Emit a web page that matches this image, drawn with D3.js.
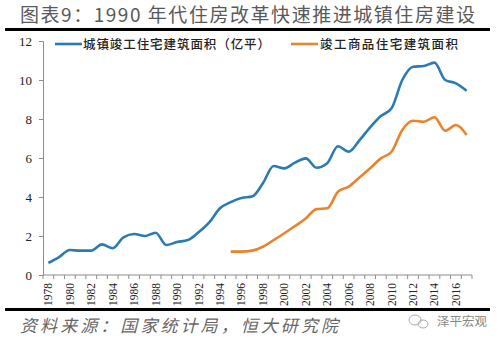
<!DOCTYPE html>
<html><head><meta charset="utf-8">
<script src="https://cdn.jsdelivr.net/npm/d3@7"></script>
<style>html,body{margin:0;padding:0;background:#fff;}svg{display:block;}</style>
</head><body>
<svg id="c" width="500" height="342"></svg>
<script>
const years = d3.range(1978, 2018);
const urbanCompleted = [0.62,0.92,1.28,1.25,1.25,1.57,1.37,1.93,2.10,2.00,2.17,1.54,1.69,1.79,2.19,2.70,3.42,3.74,3.95,4.02,4.70,5.59,5.47,5.76,5.98,5.50,5.73,6.60,6.32,6.90,7.57,8.15,8.55,10.00,10.68,10.72,10.89,10.00,9.83,9.45];
const commercialYears = d3.range(1995, 2018);
const commercialCompleted = [1.20,1.20,1.25,1.45,1.79,2.14,2.51,2.90,3.38,3.42,4.27,4.53,5.00,5.47,5.98,6.32,7.44,7.91,7.86,8.09,7.40,7.69,7.18];
const yTicks = [0,2,4,6,8,10,12];
const seriesNames = ["城镇竣工住宅建筑面积（亿平）","竣工商品住宅建筑面积"];
const seriesColors = ["#2b7bb2","#e8832e"];
const titleText = "图表9：1990 年代住房改革快速推进城镇住房建设";
const sourceText = "资料来源：国家统计局，恒大研究院";
const watermark = "泽平宏观";

const svg = d3.select("#c");
const x = d3.scaleBand().domain(years).range([43, 472]).padding(0);
const y = d3.scaleLinear().domain([0, 12]).range([275, 41]);
const cx = d => x(d) + x.bandwidth()/2;
const cjk = "'Noto Sans CJK SC', sans-serif";
const serif = "'Liberation Serif', 'DejaVu Serif', serif";

// title
svg.append("text").attr("x", 20).attr("y", 22)
  .attr("font-family", cjk).attr("font-size", 19).attr("fill", "#595959")
  .attr("textLength", 455).attr("lengthAdjust", "spacing").text(titleText);
svg.append("line").attr("x1", 5).attr("x2", 490).attr("y1", 29.5).attr("y2", 29.5)
  .attr("stroke", "#000").attr("stroke-width", 3);

// y axis
const yAxis = d3.axisLeft(y).tickValues(yTicks).tickSize(4).tickPadding(7);
const gy = svg.append("g").attr("transform", "translate(43,0)").call(yAxis);
gy.selectAll("path,line").attr("stroke", "#8c8c8c");
gy.selectAll("text").attr("font-family", serif).attr("font-size", 13).attr("fill", "#222");

// x axis
const gx = svg.append("g").attr("transform", "translate(0,275)");
gx.append("line").attr("x1", x.range()[0]).attr("x2", x.range()[1]).attr("stroke", "#8c8c8c");
gx.selectAll("line.tk").data(years.concat([2018])).enter().append("line")
  .attr("class", "tk")
  .attr("x1", d => d === 2018 ? x.range()[1] : x(d))
  .attr("x2", d => d === 2018 ? x.range()[1] : x(d))
  .attr("y1", 0).attr("y2", 4).attr("stroke", "#8c8c8c");
gx.selectAll("text").data(years.filter(d => d % 2 === 0)).enter().append("text")
  .attr("transform", d => `translate(${cx(d)+4},8) rotate(-90)`)
  .attr("text-anchor", "end")
  .attr("font-family", serif).attr("font-size", 11.5).attr("fill", "#222")
  .text(d => d);

// lines
const line = d3.line().curve(d3.curveMonotoneX);
svg.append("path")
  .attr("d", line(years.map((d, i) => [cx(d), y(urbanCompleted[i])])))
  .attr("fill", "none").attr("stroke", seriesColors[0]).attr("stroke-width", 2.6);
svg.append("path")
  .attr("d", line(commercialYears.map((d, i) => [cx(d), y(commercialCompleted[i])])))
  .attr("fill", "none").attr("stroke", seriesColors[1]).attr("stroke-width", 2.6);

// legend
const legend = [{x: 55, tx: 83, w: 187}, {x: 291, tx: 320, w: 138}];
legend.forEach((l, i) => {
  svg.append("line").attr("x1", l.x).attr("x2", l.x + 27).attr("y1", 44).attr("y2", 44)
    .attr("stroke", seriesColors[i]).attr("stroke-width", 2.6);
  svg.append("text").attr("x", l.tx).attr("y", 49)
    .attr("font-family", cjk).attr("font-size", 12.5).attr("font-weight", 500).attr("fill", "#222")
    .attr("textLength", l.w).attr("lengthAdjust", "spacing").text(seriesNames[i]);
});

// bottom
svg.append("line").attr("x1", 5).attr("x2", 490).attr("y1", 309.5).attr("y2", 309.5)
  .attr("stroke", "#000").attr("stroke-width", 3);
svg.append("text").attr("x", 20).attr("y", 332)
  .attr("font-family", cjk).attr("font-size", 17).attr("font-style", "italic").attr("fill", "#666")
  .attr("textLength", 318).attr("lengthAdjust", "spacing")
  .text(sourceText);
// watermark icon
const wm = svg.append("g").attr("fill", "none").attr("stroke", "#aaa").attr("stroke-width", 1);
wm.append("ellipse").attr("cx", 415).attr("cy", 320).attr("rx", 6).attr("ry", 5);
wm.append("ellipse").attr("cx", 423).attr("cy", 324).attr("rx", 5).attr("ry", 4);
svg.append("text").attr("x", 437).attr("y", 326)
  .attr("font-family", cjk).attr("font-size", 12.5).attr("fill", "#888").text(watermark);
</script>
</body></html>
